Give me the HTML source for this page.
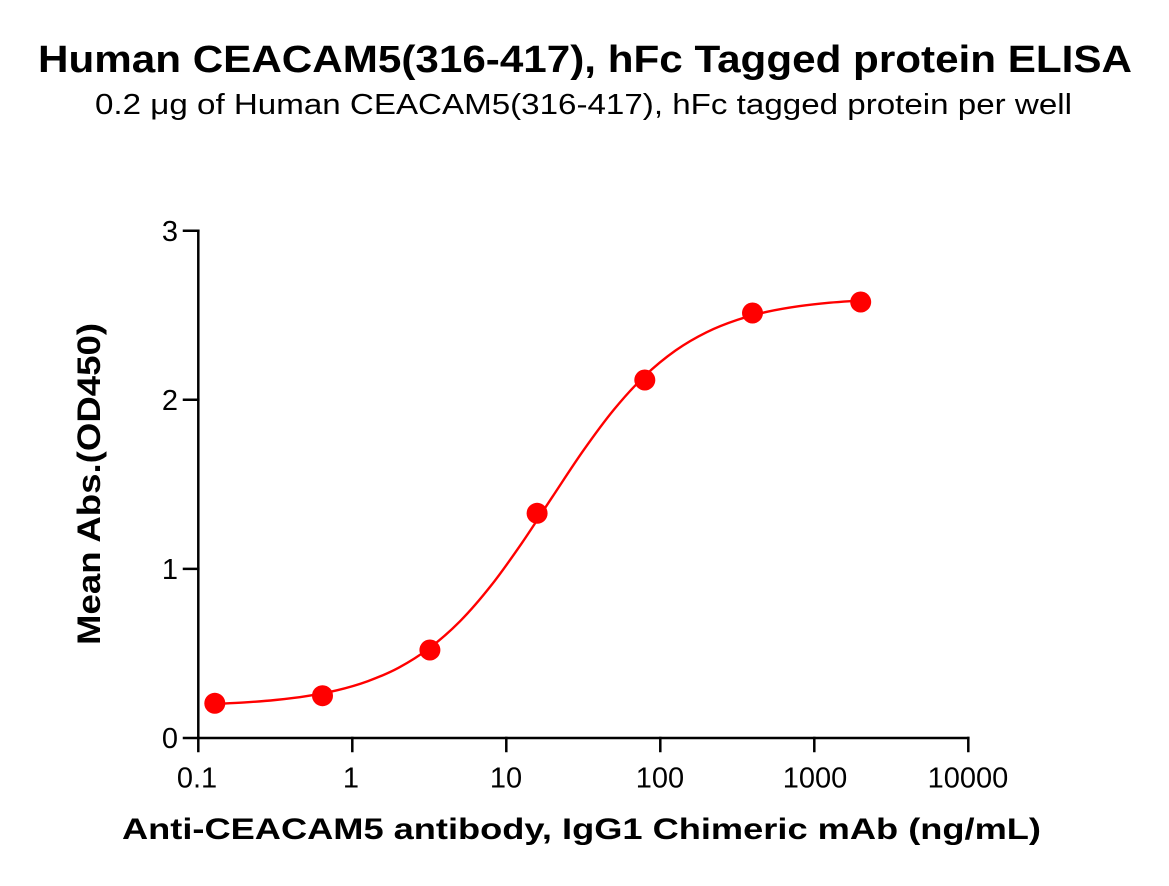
<!DOCTYPE html>
<html>
<head>
<meta charset="utf-8">
<style>
  html, body { margin: 0; padding: 0; background: #ffffff; }
  svg { display: block; }
  text { font-family: "Liberation Sans", Arial, sans-serif; fill: #000; }
</style>
</head>
<body>
<svg width="1169" height="886" viewBox="0 0 1169 886" xmlns="http://www.w3.org/2000/svg">
  <rect x="0" y="0" width="1169" height="886" fill="#ffffff"/>

  <!-- Titles -->
  <text x="38" y="72" font-size="38" font-weight="bold" textLength="1094" lengthAdjust="spacingAndGlyphs">Human CEACAM5(316-417), hFc Tagged protein ELISA</text>
  <text x="95" y="114" font-size="29" textLength="977" lengthAdjust="spacingAndGlyphs">0.2 μg of Human CEACAM5(316-417), hFc tagged protein per well</text>

  <!-- Axes -->
  <g stroke="#000" stroke-width="2.5" fill="none" stroke-linecap="square">
    <line x1="198.3" y1="230.7" x2="198.3" y2="738"/>
    <line x1="198.3" y1="738" x2="968.3" y2="738"/>
    <!-- y ticks -->
    <line x1="184" y1="230.7" x2="198.3" y2="230.7"/>
    <line x1="184" y1="399.8" x2="198.3" y2="399.8"/>
    <line x1="184" y1="568.9" x2="198.3" y2="568.9"/>
    <line x1="184" y1="738" x2="198.3" y2="738"/>
    <!-- x ticks -->
    <line x1="198.3" y1="738" x2="198.3" y2="751"/>
    <line x1="352.3" y1="738" x2="352.3" y2="751"/>
    <line x1="506.3" y1="738" x2="506.3" y2="751"/>
    <line x1="660.3" y1="738" x2="660.3" y2="751"/>
    <line x1="814.3" y1="738" x2="814.3" y2="751"/>
    <line x1="968.3" y1="738" x2="968.3" y2="751"/>
  </g>

  <!-- Y tick labels -->
  <g font-size="29" text-anchor="end">
    <text x="178" y="240.8">3</text>
    <text x="178" y="409.9">2</text>
    <text x="178" y="579">1</text>
    <text x="178" y="748.1">0</text>
  </g>

  <!-- X tick labels -->
  <g font-size="29" text-anchor="middle">
    <text x="197" y="787.5">0.1</text>
    <text x="351" y="787.5">1</text>
    <text x="506" y="787.5">10</text>
    <text x="660" y="787.5">100</text>
    <text x="815" y="787.5">1000</text>
    <text x="968" y="787.5">10000</text>
  </g>

  <!-- Axis labels -->
  <text x="122" y="839" font-size="30" font-weight="bold" textLength="919" lengthAdjust="spacingAndGlyphs">Anti-CEACAM5 antibody, IgG1 Chimeric mAb (ng/mL)</text>
  <text transform="translate(100,645) rotate(-90)" x="0" y="0" font-size="32" font-weight="bold" textLength="322" lengthAdjust="spacingAndGlyphs">Mean Abs.(OD450)</text>

  <!-- Fitted curve -->
  <path fill="none" stroke="#ff0000" stroke-width="2.4" stroke-linecap="round"
    d="M214.8,704.0
       C225.07,703.48 234.23,703.12 244.5,702.45
       C254.77,701.78 265.03,701.04 275.3,700.0
       C285.57,698.96 295.83,697.82 306.1,696.2
       C316.37,694.58 326.63,692.8 336.9,690.3
       C347.17,687.8 357.43,684.95 367.7,681.2
       C377.97,677.45 388.23,673.3 398.5,667.8
       C408.77,662.3 419.03,655.97 429.3,648.2
       C439.57,640.43 449.83,631.6 460.1,621.2
       C470.37,610.8 480.63,598.78 490.9,585.8
       C501.17,572.82 511.43,558.15 521.7,543.3
       C531.97,528.45 542.23,512.15 552.5,496.7
       C562.77,481.25 573.03,465.15 583.3,450.6
       C593.57,436.05 603.83,421.87 614.1,409.4
       C624.37,396.93 634.63,385.63 644.9,375.8
       C655.17,365.97 665.43,357.65 675.7,350.4
       C685.97,343.15 696.23,337.38 706.5,332.3
       C716.77,327.22 727.03,323.35 737.3,319.9
       C747.57,316.45 757.83,313.88 768.1,311.6
       C778.37,309.32 788.63,307.68 798.9,306.2
       C809.17,304.72 819.43,303.65 829.7,302.7
       C840.0,301.75 850.4,301.23 860.7,300.5"/>

  <!-- Data points -->
  <g fill="#ff0000">
    <circle cx="214.8" cy="703.3" r="10.5"/>
    <circle cx="322.5" cy="695.7" r="10.5"/>
    <circle cx="429.9" cy="650" r="10.5"/>
    <circle cx="537.1" cy="513.3" r="10.5"/>
    <circle cx="644.8" cy="380" r="10.5"/>
    <circle cx="752.5" cy="313" r="10.5"/>
    <circle cx="860.7" cy="302" r="10.5"/>
  </g>
</svg>
</body>
</html>
